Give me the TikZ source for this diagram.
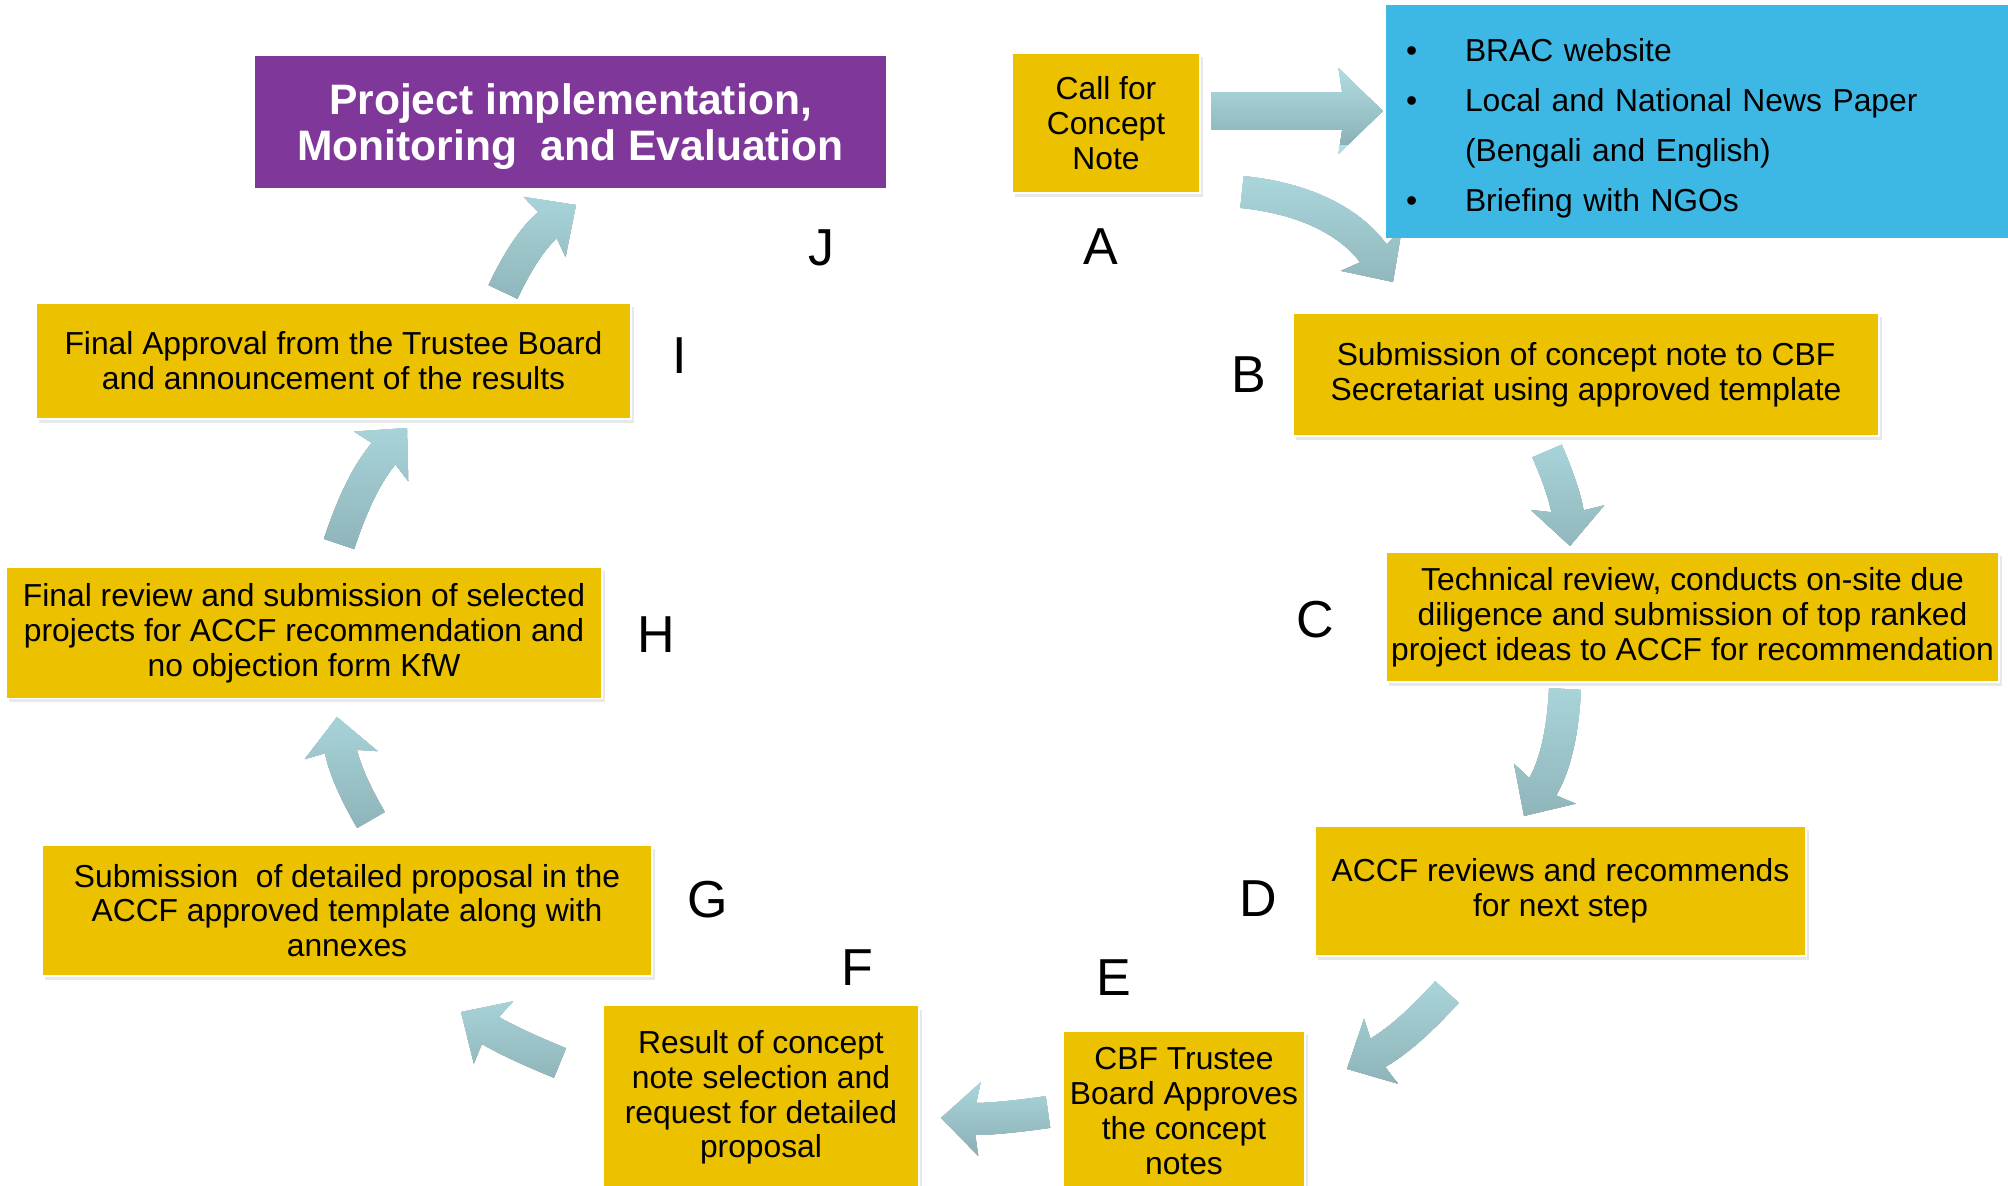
\documentclass[tikz,border=0pt]{standalone}
\usepackage{fontspec}
\setmainfont{Liberation Sans}
\usetikzlibrary{arrows.meta,shadows}

\definecolor{boxyellow}{HTML}{EBC100}
\definecolor{implpurple}{HTML}{7F3899}
\definecolor{mediablue}{HTML}{3DB8E4}
\definecolor{arrowlight}{HTML}{B1DFE4}
\definecolor{arrowdark}{HTML}{86AAAF}

% curved block arrow: [options] name, from, to, bend
\newcommand{\flowarrow}[5][]{%
  \begin{scope}[local bounding box=#2]
    \draw[flow, #1] (#3) to[bend left=#5] (#4);
  \end{scope}
  \shade[top color=arrowlight, bottom color=arrowdark, blend mode=lighten]
    ([shift={(-46,-46)}]#2.north west) rectangle ([shift={(46,46)}]#2.south east);
}

\begin{document}
\begin{tikzpicture}[x=0.5pt, y=-0.5pt,
  stepbox/.style = {fill=boxyellow, draw=white, line width=0.8pt, align=center, inner sep=0pt,
    font=\fontsize{15.9}{17.4}\selectfont,
    drop shadow={shadow xshift=1.5pt, shadow yshift=-2pt, opacity=0.18}},
  letter/.style = {font=\fontsize{26}{30}\selectfont, inner sep=0pt},
  flow/.style = {draw=black, line width=16pt, line cap=butt, -{Stealth[width=36pt, length=19pt, inset=3pt]}}]

\fill[white] (0,0) rectangle (2008,1186);

% Arrow ends
\coordinate (am1) at (1211,111);
\coordinate (am2) at (1383,111);
\coordinate (ab1) at (1242,192);
\coordinate (ab2) at (1393,282);
\coordinate (bc1) at (1547,451);
\coordinate (bc2) at (1570,546);
\coordinate (cd1) at (1565,689);
\coordinate (cd2) at (1524,816);
\coordinate (de1) at (1447,992);
\coordinate (de2) at (1347,1069);
\coordinate (ef1) at (1048,1112);
\coordinate (ef2) at (941,1118);
\coordinate (fg1) at (560,1063);
\coordinate (fg2) at (461,1012);
\coordinate (gh1) at (371,820);
\coordinate (gh2) at (337,717);
\coordinate (hi1) at (339,544);
\coordinate (hi2) at (407,428);
\coordinate (ij1) at (503,292);
\coordinate (ij2) at (576,205);

% Arrows
\flowarrow[line width=19pt, -{Stealth[width=42pt, length=22pt, inset=3pt]}]{arram}{am1}{am2}{0}
\flowarrow{arrab}{ab1}{ab2}{25}
\flowarrow{arrbc}{bc1}{bc2}{10}
\flowarrow{arrcd}{cd1}{cd2}{15}
\flowarrow{arrde}{de1}{de2}{10}
\flowarrow{arref}{ef1}{ef2}{5}
\flowarrow{arrfg}{fg1}{fg2}{5}
\flowarrow{arrgh}{gh1}{gh2}{12}
\flowarrow{arrhi}{hi1}{hi2}{12}
\flowarrow{arrij}{ij1}{ij2}{15}

\useasboundingbox (0,0) rectangle (2008,1186);

% Boxes
\node[fill=implpurple, text=white, align=center, inner sep=0pt, minimum width=315.5pt, minimum height=66pt,
  font=\bfseries\fontsize{21.3}{23}\selectfont] (impl) at (570.5,122)
  {\rule{0pt}{19.6pt}Project implementation,\\Monitoring\ \ and Evaluation};
\node[stepbox, minimum width=94pt, minimum height=70pt] (a) at (1106,123) {Call for\\Concept\\Note};
\node[fill=mediablue, align=left, text width=297pt, inner xsep=10pt, inner ysep=0pt, minimum height=116.5pt,
  font=\fontsize{15.9}{25}\selectfont] (media) at (1703,121.5)
  {\rule{0pt}{18pt}\makebox[29.5pt][l]{\textbullet}BRAC website\\
   \makebox[29.5pt][l]{\textbullet}Local and National News Paper\\
   \hspace*{29.5pt}(Bengali and English)\\
   \makebox[29.5pt][l]{\textbullet}Briefing with NGOs};
\node[stepbox, minimum width=293pt, minimum height=61.5pt] (b) at (1586,374.5) {Submission of concept note to CBF\\Secretariat using approved template};
\node[stepbox, minimum width=306.5pt, minimum height=65pt] (c) at (1692.5,617) {Technical review, conducts on-site due\\diligence and submission of top ranked\\project ideas to ACCF for recommendation};
\node[stepbox, minimum width=245.5pt, minimum height=65pt] (d) at (1560.5,891) {ACCF reviews and recommends\\for next step};
\node[stepbox, minimum width=121pt, minimum height=80pt] (e) at (1184,1111) {CBF Trustee\\Board Approves\\the concept\\notes};
\node[stepbox, minimum width=158pt, minimum height=92pt] (f) at (761,1097.5) {Result of concept\\note selection and\\request for detailed\\proposal};
\node[stepbox, minimum width=305pt, minimum height=65.5pt] (g) at (347,910.5) {Submission\ \ of detailed proposal in the\\ACCF approved template along with\\annexes};
\node[stepbox, minimum width=298pt, minimum height=65.5pt] (h) at (304,633) {Final review and submission of selected\\projects for ACCF recommendation and\\no objection form KfW};
\node[stepbox, minimum width=297.5pt, minimum height=58pt] (i) at (333.5,361) {Final Approval from the Trustee Board\\and announcement of the results};

% Letters
\node[letter] (la) at (1101,247) {A};
\node[letter] (lb) at (1249,375) {B};
\node[letter] (lc) at (1315,620) {C};
\node[letter] (ld) at (1258,899) {D};
\node[letter] (le) at (1114,978) {E};
\node[letter] (lf) at (857,968) {F};
\node[letter] (lg) at (708,900) {G};
\node[letter] (lh) at (656,635) {H};
\node[letter] (li) at (680,356) {I};
\node[letter] (lj) at (821,248) {J};

\end{tikzpicture}
\end{document}
